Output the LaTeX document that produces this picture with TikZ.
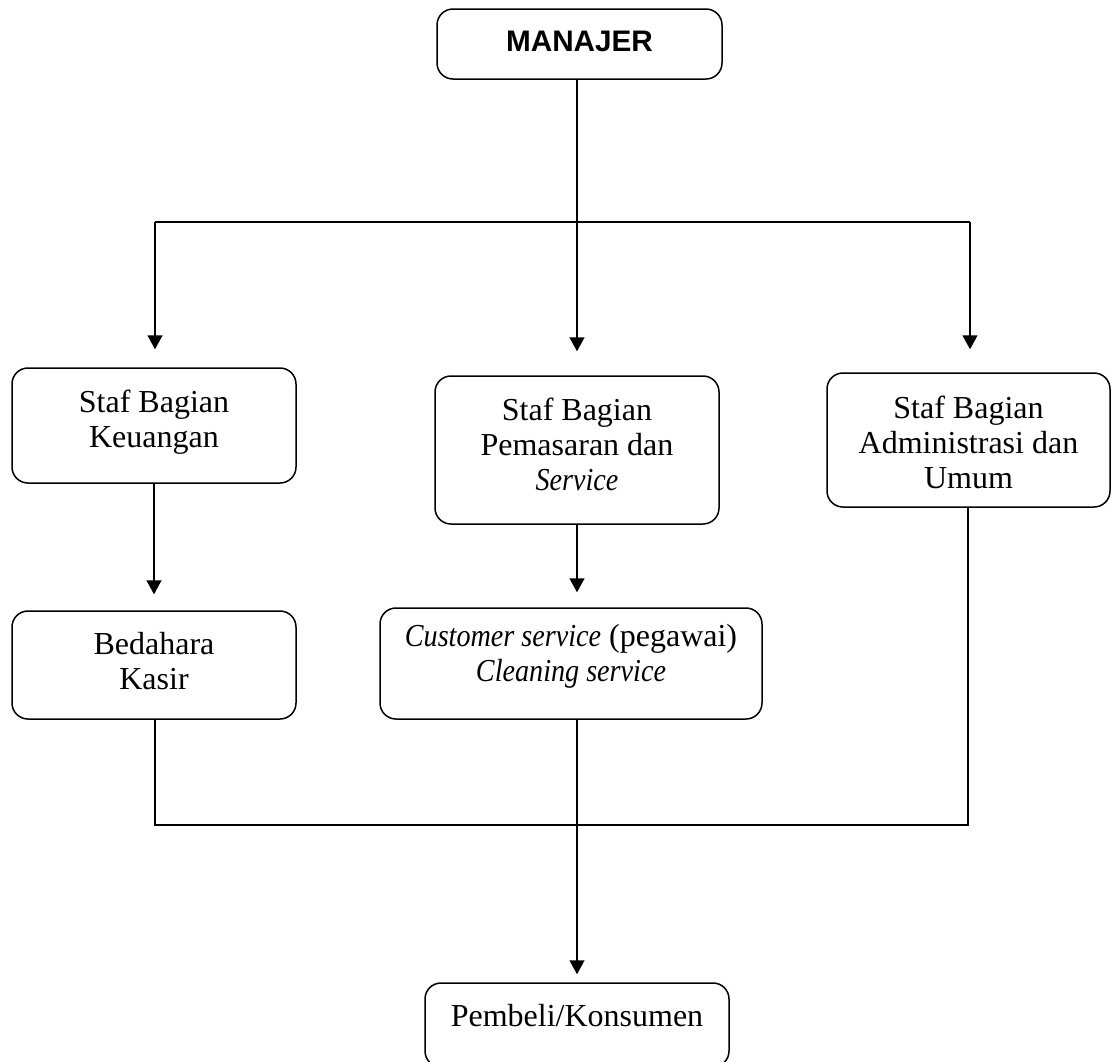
\documentclass[tikz,border=0pt]{standalone}
\usepackage{fontspec}
\setmainfont{Liberation Serif}[ItalicFeatures={FakeStretch=0.88}]
\newfontfamily\headfont{Liberation Sans}
\usetikzlibrary{arrows.meta}
\tikzset{
  box/.style={draw, line width=1.5pt, rounded corners=16pt, inner sep=0pt},
  lbl/.style={inner sep=0pt, align=center, anchor=base, font=\fontsize{32}{35}\selectfont},
  conn/.style={line width=1.5pt},
  arr/.style={conn, -{Triangle[width=15pt,length=14pt]}},
}
\begin{document}
\begin{tikzpicture}[x=1pt,y=-1pt]
\useasboundingbox (0,0) rectangle (1111,1061);
% boxes
\node[box, minimum width=285pt, minimum height=70pt] (man) at (579.5,44) {};
\node[box, minimum width=284pt, minimum height=115pt] (keu) at (154,425.5) {};
\node[box, minimum width=284pt, minimum height=148pt] (pem) at (577,450) {};
\node[box, minimum width=283pt, minimum height=134pt] (adm) at (968.5,440) {};
\node[box, minimum width=284pt, minimum height=108pt] (bed) at (154,665) {};
\node[box, minimum width=382pt, minimum height=111pt] (cus) at (571,663.5) {};
\node[box, minimum width=304pt, minimum height=84pt] (pbl) at (577,1025) {};
% texts (base anchor = baseline of the last line)
\node[inner sep=0pt, anchor=base, font=\headfont\bfseries\fontsize{29.7}{35}\selectfont] (tman) at (579.5,51) {MANAJER};
\node[lbl] (tkeu) at (154,447) {Staf Bagian\\Keuangan};
\node[lbl] (tpem) at (577,490) {Staf Bagian\\Pemasaran dan\\\textit{Service}};
\node[lbl] (tadm) at (968.5,488) {Staf Bagian\\Administrasi dan\\Umum};
\node[lbl] (tbed) at (154,689) {Bedahara\\Kasir};
\node[lbl] (tcus) at (571,681) {\textit{Customer service} (pegawai)\\\textit{Cleaning service}};
\node[lbl] (tpbl) at (577,1026) {Pembeli/Konsumen};
% junctions
\coordinate (j) at (577,222);
\coordinate (jl) at (155,222);
\coordinate (jr) at (970,222);
\coordinate (bl) at (155,825);
\coordinate (br) at (968,825);
% connectors
\draw[conn] (j |- man.south) -- (j);
\draw[conn] (jl) -- (jr);
\draw[arr, shorten >=18pt] (jl) -- (jl |- keu.north);
\draw[arr, shorten >=24pt] (j) -- (j |- pem.north);
\draw[arr, shorten >=23pt] (jr) -- (jr |- adm.north);
\draw[arr, shorten >=16pt] (keu.south) -- (bed.north);
\draw[arr, shorten >=15pt] (pem.south) -- (pem.south |- cus.north);
\draw[conn] (bl |- bed.south) -- (bl) -- (br) -- (br |- adm.south);
\draw[arr, shorten >=8pt] (pbl.north |- cus.south) -- (pbl.north);
\end{tikzpicture}
\end{document}
